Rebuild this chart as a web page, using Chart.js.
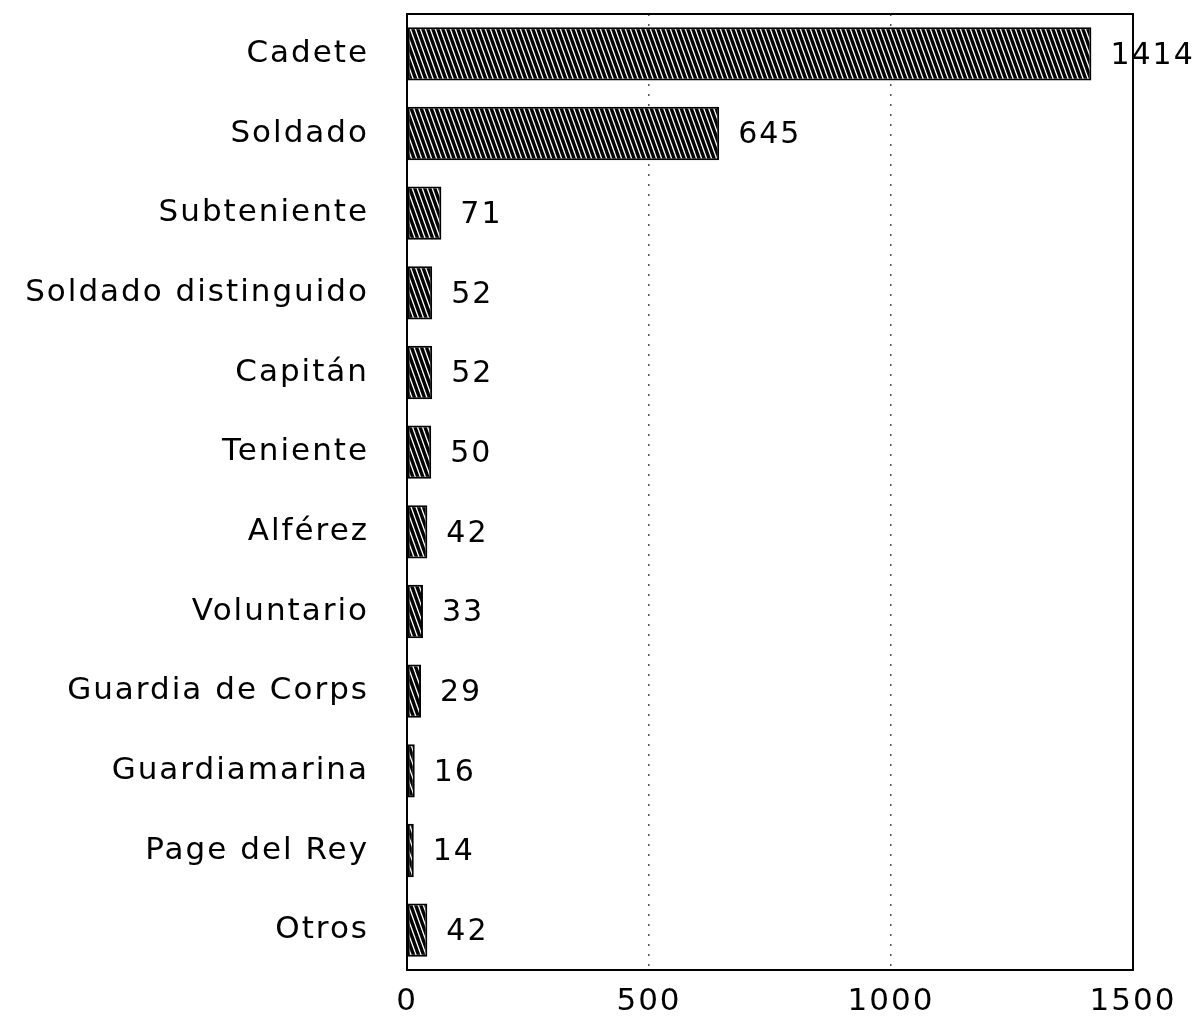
<!DOCTYPE html>
<html>
<head>
<meta charset="utf-8">
<script src="https://cdn.jsdelivr.net/npm/chart.js@4/dist/chart.umd.min.js"></script>
<style>
    html, body { margin: 0; padding: 0; background: #fff; }
    #wrap { width: 1196px; height: 1031px; }
</style>
</head>
<body>
<div id="wrap"><canvas id="chart"></canvas></div>
<script>
// Data
var categories = ["Cadete", "Soldado", "Subteniente", "Soldado distinguido", "Capitán", "Teniente",
    "Alférez", "Voluntario", "Guardia de Corps", "Guardiamarina", "Page del Rey", "Otros"];
var counts = [1414, 645, 71, 52, 52, 50, 42, 33, 29, 16, 14, 42];
var xTicks = [0, 500, 1000, 1500];

var FONT = "'DejaVu Sans', sans-serif";

// hatch fill: dark with thin white slanted lines
var makeHatch = function () {
    var c = document.createElement("canvas");
    c.width = 5;
    c.height = 14;
    var g = c.getContext("2d");
    g.fillStyle = "#000";
    g.fillRect(0, 0, 5, 14);
    g.strokeStyle = "#ffffff";
    g.lineWidth = 1.3;
    [-5, 0, 5].forEach(function (dx) {
        g.beginPath();
        g.moveTo(dx, 0);
        g.lineTo(dx + 5, 14);
        g.stroke();
    });
    return document.getElementById("chart").getContext("2d").createPattern(c, "repeat");
};

var boxAndLabels = {
    id: "boxAndLabels",
    beforeDraw: function (chart) {
        chart.ctx.letterSpacing = "2px";
    },
    afterDatasetsDraw: function (chart) {
        var ctx = chart.ctx;
        var area = chart.chartArea;
        ctx.save();
        ctx.strokeStyle = "#000";
        ctx.lineWidth = 2;
        ctx.strokeRect(area.left, area.top, area.right - area.left, area.bottom - area.top);

        ctx.font = "30px " + FONT;
        ctx.letterSpacing = "2px";
        ctx.fillStyle = "#000";
        ctx.textBaseline = "middle";
        ctx.textAlign = "left";
        chart.getDatasetMeta(0).data.forEach(function (bar, i) {
            ctx.fillText(String(counts[i]), bar.x + 19, bar.y + 2);
        });
        ctx.restore();
    },
};

new Chart("chart", {
    type: "bar",
    data: {
        labels: categories,
        datasets: [
            {
                data: counts,
                backgroundColor: makeHatch(),
                borderColor: "#000",
                borderWidth: 2,
                borderSkipped: false,
                barPercentage: 0.67,
                categoryPercentage: 1,
            },
        ],
    },
    options: {
        indexAxis: "y",
        responsive: true,
        maintainAspectRatio: false,
        animation: false,
        layout: { padding: { top: 14, right: 63, left: 0, bottom: 0 } },
        plugins: {
            legend: { display: false },
            tooltip: { enabled: false },
        },
        scales: {
            x: {
                min: 0,
                max: 1500,
                afterBuildTicks: function (scale) {
                    scale.ticks = xTicks.map(function (v) { return { value: v }; });
                },
                afterFit: function (scale) {
                    scale.height = 61;
                    scale.paddingLeft = 0;
                    scale.paddingRight = 0;
                },
                grid: {
                    drawTicks: false,
                    color: function (c) {
                        var v = c.tick && c.tick.value;
                        return v === 0 || v === 1500 ? "rgba(0,0,0,0)" : "#555";
                    },
                    lineWidth: 1.5,
                },
                border: { display: false, dash: [2, 8] },
                ticks: {
                    color: "#000",
                    padding: 13,
                    maxRotation: 0,
                    font: { family: FONT, size: 31 },
                    callback: function (v) { return String(v); },
                },
            },
            y: {
                afterFit: function (scale) {
                    scale.width = 407;
                    scale.paddingTop = 0;
                    scale.paddingBottom = 0;
                },
                grid: { display: false, drawTicks: false },
                border: { display: false },
                ticks: {
                    color: "#000",
                    padding: 38,
                    font: { family: FONT, size: 31 },
                },
            },
        },
    },
    plugins: [boxAndLabels],
});
</script>
</body>
</html>
